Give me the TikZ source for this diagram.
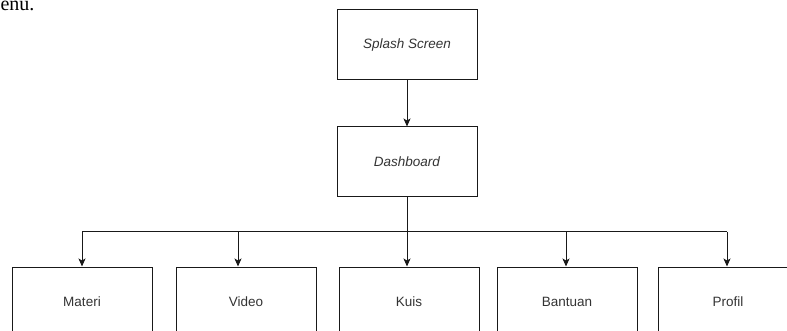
\documentclass[tikz,border=0pt]{standalone}
\usepackage{fontspec}
\setmainfont{Liberation Sans}
\newfontfamily\serifpart{Liberation Serif}
\usetikzlibrary{arrows.meta,positioning}

\begin{document}
\begin{tikzpicture}[x=1pt,y=-1pt,>={Stealth[length=8pt,width=7pt,inset=2pt]},
  every node/.style={font=\fontsize{13.5}{16}\selectfont,text=black!80},
  menubox/.style={draw=black!90,line width=1pt,minimum width=140pt,minimum height=70pt,inner sep=0pt},
  link/.style={draw=black!90,line width=1pt}]
\useasboundingbox (0,0) rectangle (787,331);
\node[anchor=base west,font=\serifpart\fontsize{20}{24}\selectfont,text=black] (cut) at (-3,11) {enu.};
\node[menubox] (splash) at (407,45) {\textit{Splash Screen}};
\node[menubox] (dash) at (407,162) {\textit{Dashboard}};
\draw[->,link] (splash) -- (dash);
\foreach \name/\x/\ax/\txt in {materi/82/82/Materi,video/246/238/Video,kuis/409/407/Kuis,bantuan/567/566/Bantuan,profil/728/727/Profil} {
  \node[menubox] (\name) at (\x,302) {\txt};
  \coordinate (bus-\name) at (\ax,232);
  \draw[->,link] (bus-\name) -- (bus-\name |- \name.north);
}
\draw[link] (dash.south) -- (dash.south |- bus-kuis);
\draw[link] (bus-materi) -- (bus-profil);
\end{tikzpicture}
\end{document}
